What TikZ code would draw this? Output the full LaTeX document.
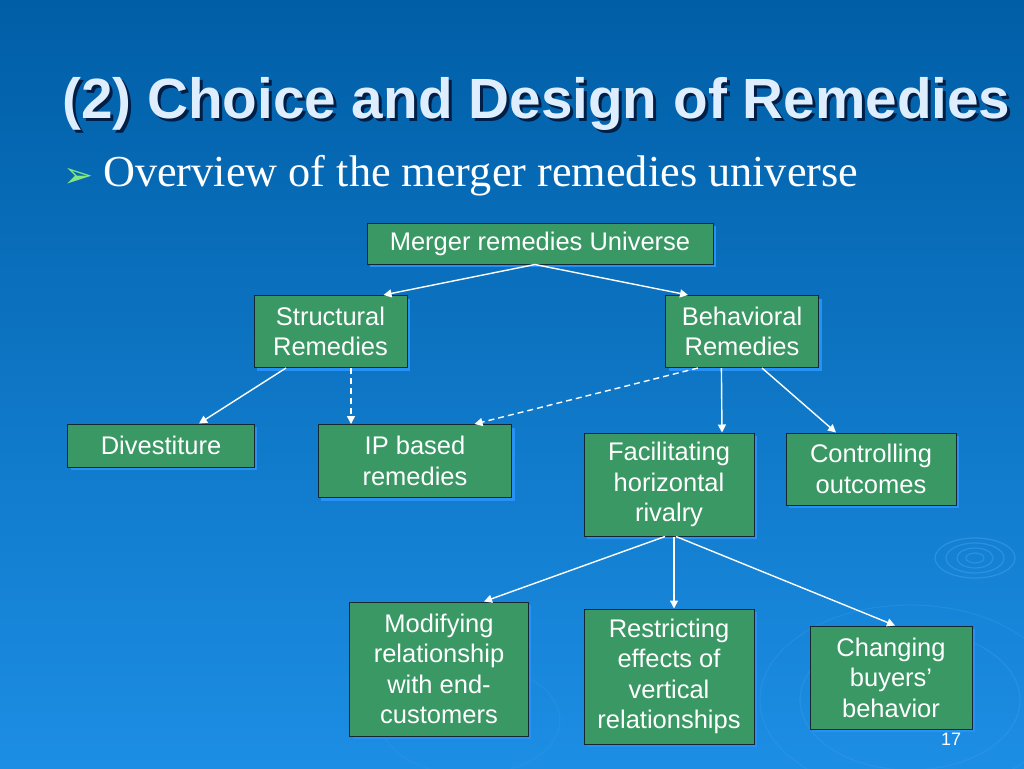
\documentclass[tikz,border=0pt]{standalone}
\usepackage{fontspec}
\newfontfamily\arialf{Liberation Sans}
\newfontfamily\timesf{Liberation Serif}
\newfontfamily\dejavuf{DejaVu Sans}
\usetikzlibrary{arrows.meta,shadows,calc}
\definecolor{bgtop}{RGB}{0,94,166}
\definecolor{bgmid}{RGB}{6,110,186}
\definecolor{bgbot}{RGB}{28,142,228}
\definecolor{boxgreen}{RGB}{58,152,100}
\definecolor{boxline}{RGB}{20,40,50}
\definecolor{shadowblue}{RGB}{40,145,245}
\definecolor{titlecol}{RGB}{222,238,255}
\definecolor{titleshadow}{RGB}{0,30,70}
\definecolor{bulletgreen}{RGB}{130,230,130}
\definecolor{ripple}{RGB}{70,160,235}
\begin{document}
\begin{tikzpicture}[x=1pt,y=-1pt,
  remedybox/.style={rectangle, draw=boxline, line width=1pt, fill=boxgreen,
    text=white, inner sep=0pt, align=center,
    font=\arialf\fontsize{25.5}{30.5}\selectfont,
    drop shadow={shadow xshift=3pt, shadow yshift=-3pt, fill=shadowblue, opacity=1}},
  conn/.style={draw=white, line width=1.4pt, -{Triangle[length=8pt,width=8pt]}},
  dconn/.style={conn, dash pattern=on 6pt off 4pt}]
\useasboundingbox (0,0) rectangle (1024,768);
\shade[top color=bgtop, middle color=bgmid, bottom color=bgbot] (0,0) rectangle (1024,768);
% ripples
\begin{scope}[draw=ripple, line width=1.2pt, opacity=0.5]
  \draw (975,558) ellipse [x radius=9, y radius=5];
  \draw (975,558) ellipse [x radius=18, y radius=10];
  \draw (975,558) ellipse [x radius=29, y radius=15];
  \draw[opacity=0.5] (975,558) ellipse [x radius=40, y radius=20];
  \draw[opacity=0.3] (910,700) ellipse [x radius=110, y radius=70];
  \draw[opacity=0.25] (910,700) ellipse [x radius=150, y radius=95];
  \draw[opacity=0.2] (470,720) ellipse [x radius=90, y radius=55];
\end{scope}
% title
\node[anchor=base west, text=titlecol, font=\arialf\bfseries\fontsize{56.7}{60}\selectfont, inner sep=0pt] (title) at (62,118)
  {\makebox[0pt][l]{\hspace{3pt}\raisebox{-3pt}{\color{titleshadow}(2) Choice and Design of Remedies}}(2) Choice and Design of Remedies};
\node[anchor=base west, text=bulletgreen, font=\dejavuf\fontsize{36}{40}\selectfont, inner sep=0pt] (bullet) at (63,187) {➢};
\node[anchor=base west, text=white, inner sep=0pt] (subtitle) at (103,186) {\resizebox{755pt}{!}{\timesf Overview of the merger remedies universe}};
% page number
\node[anchor=base, text=white, font=\arialf\fontsize{18}{20}\selectfont, inner sep=0pt] (pagenum) at (951,745) {17};
% boxes
\node[remedybox, minimum width=346pt, minimum height=41pt] (top) at (540,243.5) {Merger remedies Universe};
\node[remedybox, minimum width=153pt, minimum height=72pt] (struct) at (330.5,331.5) {Structural\\Remedies};
\node[remedybox, minimum width=153pt, minimum height=72pt] (behav) at (742,331.5) {Behavioral\\Remedies};
\node[remedybox, minimum width=186.5pt, minimum height=43pt] (divest) at (161,445.5) {Divestiture};
\node[remedybox, minimum width=193.6pt, minimum height=73pt] (ip) at (415,461) {IP based\\remedies};
\node[remedybox, minimum width=170pt, minimum height=103pt] (facil) at (669,484.5) {Facilitating\\horizontal\\rivalry};
\node[remedybox, minimum width=170pt, minimum height=72pt] (ctrl) at (871,469) {Controlling\\outcomes};
\node[remedybox, minimum width=178.5pt, minimum height=134pt] (modif) at (439,669) {Modifying\\relationship\\with end-\\customers};
\node[remedybox, minimum width=170pt, minimum height=135pt] (restr) at (669,676.5) {Restricting\\effects of\\vertical\\relationships};
\node[remedybox, minimum width=162pt, minimum height=103pt] (chang) at (891,677.5) {Changing\\buyers’\\behavior};
% connectors
\draw[conn] ([xshift=-5pt]top.south) -- ([xshift=53pt]struct.north);
\draw[conn] ([xshift=-5pt]top.south) -- ([xshift=-54pt]behav.north);
\draw[conn] ([xshift=-44.5pt]struct.south) -- ([xshift=38pt]divest.north);
\draw[dconn] ([xshift=20.5pt]struct.south) -- ([xshift=-64pt]ip.north);
\draw[dconn] ([xshift=-44pt]behav.south) -- ([xshift=59.5pt]ip.north);
\draw[conn] ([xshift=-20.6pt]behav.south) -- ([xshift=53pt]facil.north);
\draw[conn] ([xshift=20pt]behav.south) -- ([xshift=-35pt]ctrl.north);
\draw[conn] ([xshift=-4pt]facil.south) -- ([xshift=45pt]modif.north);
\draw[conn] ([xshift=5pt]facil.south) -- ([xshift=5pt]restr.north);
\draw[conn] ([xshift=7pt]facil.south) -- ([xshift=4pt]chang.north);
\end{tikzpicture}
\end{document}
